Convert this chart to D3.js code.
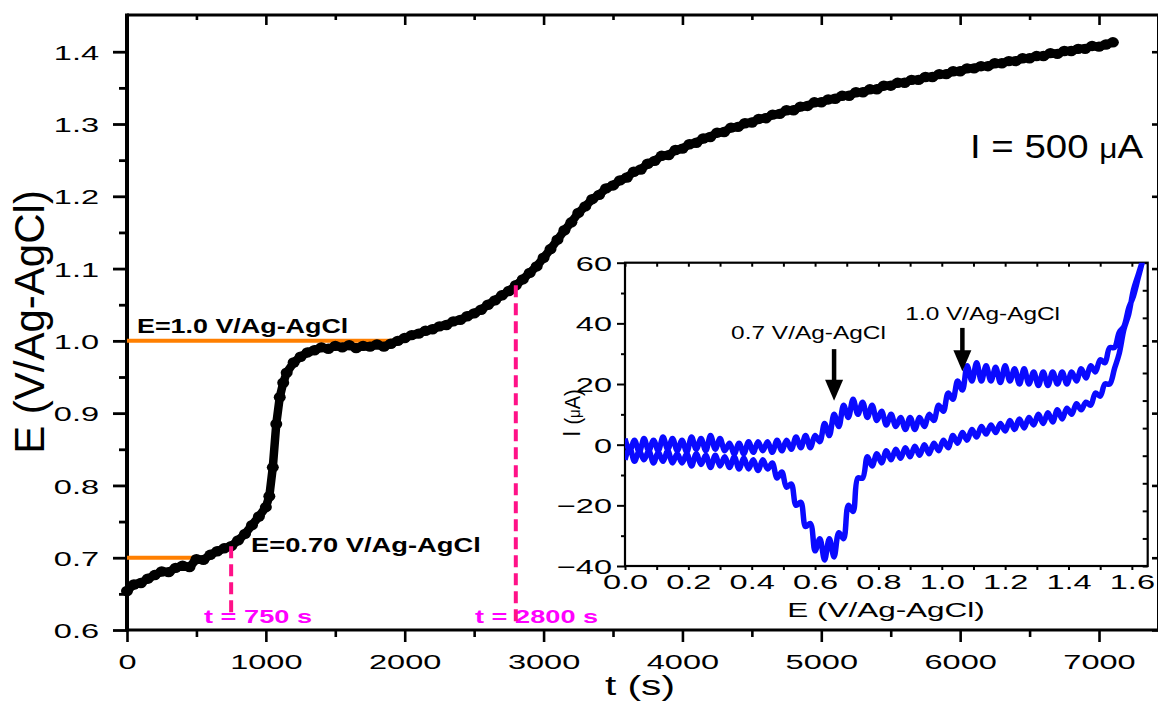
<!DOCTYPE html>
<html>
<head>
<meta charset="utf-8">
<script src="https://cdn.jsdelivr.net/npm/d3@7"></script>
<style>
  html, body { margin: 0; padding: 0; background: #fff; }
  svg { display: block; font-family: "Liberation Sans", Arial, Helvetica, sans-serif; }
</style>
</head>
<body>
<svg id="chart" width="1158" height="703"></svg>
<script>
// ---- Galvanostatic chronopotentiogram: E vs t at I = 500 µA ----
const timeS = [
  0, 50, 100, 150, 200, 250, 300, 350, 400, 450, 500, 550, 600, 650, 700, 750, 800, 850, 900, 950, 1000,
  1025, 1050, 1075, 1100, 1125, 1150,
  1200, 1250, 1300, 1350, 1400, 1450, 1500, 1550, 1600, 1650, 1700, 1750, 1800, 1850, 1900, 1950, 2000,
  2050, 2100, 2150, 2200, 2250, 2300, 2350, 2400, 2450, 2500, 2550, 2600, 2650, 2700, 2750, 2800,
  2850, 2900, 2950, 3000, 3050, 3100, 3150, 3200, 3250, 3300, 3350, 3400, 3450, 3500, 3550, 3600,
  3650, 3700, 3750, 3800, 3850, 3900, 3950, 4000, 4050, 4100, 4150, 4200, 4250, 4300, 4350, 4400,
  4450, 4500, 4550, 4600, 4650, 4700, 4750, 4800, 4850, 4900, 4950, 5000, 5050, 5100, 5150, 5200,
  5250, 5300, 5350, 5400, 5450, 5500, 5550, 5600, 5650, 5700, 5750, 5800, 5850, 5900, 5950, 6000,
  6050, 6100, 6150, 6200, 6250, 6300, 6350, 6400, 6450, 6500, 6550, 6600, 6650, 6700, 6750, 6800,
  6850, 6900, 6950, 7000, 7050, 7100
];
const potentialV = [
  0.654, 0.663, 0.665, 0.671, 0.676, 0.681, 0.680, 0.686, 0.689, 0.687, 0.698, 0.697, 0.704, 0.709, 0.713, 0.716, 0.724, 0.733, 0.745, 0.757, 0.770,
  0.785, 0.825, 0.885, 0.922, 0.942, 0.956,
  0.970, 0.978, 0.984, 0.987, 0.991, 0.989, 0.993, 0.991, 0.994, 0.990, 0.993, 0.992, 0.995, 0.992, 0.996, 1.000, 1.004,
  1.008, 1.010, 1.014, 1.016, 1.020, 1.022, 1.027, 1.029, 1.034, 1.038, 1.043, 1.050, 1.056, 1.063, 1.069, 1.077,
  1.085, 1.094, 1.103, 1.115, 1.127, 1.140, 1.153, 1.164, 1.177, 1.186, 1.196, 1.202, 1.211, 1.215, 1.222, 1.226,
  1.234, 1.237, 1.245, 1.249, 1.256, 1.257, 1.264, 1.266, 1.272, 1.274, 1.280, 1.282, 1.288, 1.289, 1.295, 1.296,
  1.301, 1.302, 1.307, 1.308, 1.313, 1.314, 1.319, 1.319, 1.324, 1.325, 1.330, 1.330, 1.334, 1.335, 1.339, 1.339,
  1.344, 1.344, 1.348, 1.348, 1.353, 1.353, 1.357, 1.357, 1.361, 1.361, 1.365, 1.365, 1.369, 1.369, 1.373, 1.373,
  1.377, 1.377, 1.380, 1.380, 1.384, 1.384, 1.387, 1.387, 1.391, 1.391, 1.394, 1.394, 1.398, 1.397, 1.401, 1.401,
  1.404, 1.404, 1.408, 1.407, 1.410, 1.413
];

// Plateau markers and sampling times
const plateauE = [0.70, 1.0];
const plateauEnd = [500, 2000];
const plateauText = ["E=0.70 V/Ag-AgCl", "E=1.0 V/Ag-AgCl"];
const sampleT = [750, 2800];
const sampleText = ["t = 750 s", "t = 2800 s"];
const sampleBottomE = [0.618, 0.612];

// Main axis ticks
const tMajor = [0, 1000, 2000, 3000, 4000, 5000, 6000, 7000];
const tMinor = [500, 1500, 2500, 3500, 4500, 5500, 6500];
const eMajor = [0.6, 0.7, 0.8, 0.9, 1.0, 1.1, 1.2, 1.3, 1.4];
const eMinor = [0.65, 0.75, 0.85, 0.95, 1.05, 1.15, 1.25, 1.35];

// ---- Inset: cyclic voltammogram ----
const cvE = [
  0, 0.015, 0.03, 0.045, 0.06, 0.075, 0.09, 0.105, 0.12, 0.135, 0.15, 0.165, 0.18, 0.195, 0.21, 0.225,
  0.24, 0.255, 0.27, 0.285, 0.3, 0.315, 0.33, 0.345, 0.36, 0.375, 0.39, 0.405, 0.42, 0.435, 0.45, 0.465,
  0.48, 0.495, 0.51, 0.525, 0.54, 0.555, 0.57, 0.585, 0.6, 0.615, 0.63, 0.645, 0.66, 0.675, 0.69, 0.705,
  0.72, 0.735, 0.75, 0.765, 0.78, 0.795, 0.81, 0.825, 0.84, 0.855, 0.87, 0.885, 0.9, 0.915, 0.93, 0.945,
  0.96, 0.975, 0.99, 1.005, 1.02, 1.035, 1.05, 1.065, 1.08, 1.095, 1.11, 1.125, 1.14, 1.155, 1.17, 1.185,
  1.2, 1.215, 1.23, 1.245, 1.26, 1.275, 1.29, 1.305, 1.32, 1.335, 1.35, 1.365, 1.38, 1.395, 1.41, 1.425,
  1.44, 1.455, 1.47, 1.485, 1.5, 1.515, 1.53, 1.545, 1.56, 1.575, 1.59, 1.605, 1.62, 1.635
];
// anodic sweep (0 -> 1.635 V), µA
const cvForward = [
  2, -2, 1.5, -2.5, 2, -2, 1.5, -2, 2.5, -1.5, 2, -2, 1.5, -2.5, 2.5, -1.5,
  2, -2, 3, -1.5, 2, -2, 0.5, -3, 0.5, -3, 1, -2.5, 1, -2, 1, -2.5,
  1.5, -2, 1.5, -1.5, 2.5, -1, 3, -1, 3, 1, 7, 3, 10, 6, 13, 9,
  15, 10, 14, 9, 13, 8, 11, 6.5, 10, 6, 9, 5, 9, 5, 9, 6,
  10, 8, 13, 11, 17, 15, 21, 18, 26, 21, 27, 21, 26, 21, 25.5, 20.5,
  26, 21, 25, 20, 25, 20, 24, 19.5, 24, 19.5, 24, 20, 24, 20, 24, 21,
  25, 22, 26, 24, 28, 27, 32, 32, 37, 39, 45, 49, 55, 61
];
// cathodic sweep (1.635 -> 0 V), listed at the same potentials in ascending order, µA
const cvReverse = [
  -5, -1, -5.5, -2, -5, -2, -6, -2.5, -5.5, -2, -6, -3, -6, -3, -7, -3,
  -6.5, -3.5, -7.5, -3.5, -7, -4, -7.5, -4, -8, -4.5, -8, -5, -8.5, -5, -8, -6,
  -11, -9, -14, -13, -20, -19, -27, -26, -35, -31, -38, -31, -37, -29, -31, -20,
  -22, -11, -11, -4, -7, -3, -6, -2, -5, -1.5, -4.5, -1, -4, -0.5, -3.5, 0,
  -3, 0.5, -2, 1.5, -1, 3, 0.5, 4, 1.5, 5, 2.5, 6, 3.5, 6.5, 4, 7,
  4.5, 8, 5, 8.5, 5.5, 9, 6.5, 10, 7, 10.5, 7.5, 11.5, 8.5, 12, 10, 13.5,
  11.5, 14, 13, 17, 16, 20, 20, 25, 30, 38, 43, 51, 56, 61
];
const cvMajorE = [0, 0.2, 0.4, 0.6, 0.8, 1.0, 1.2, 1.4, 1.6];
const cvMinorE = [0.1, 0.3, 0.5, 0.7, 0.9, 1.1, 1.3, 1.5];
const cvMajorI = [-40, -20, 0, 20, 40, 60];
const cvMinorI = [-30, -10, 10, 30, 50];
// peak annotations: label, arrow potential, arrow tail / tip current, label start potential, label current
const peakText = ["0.7 V/Ag-AgCl", "1.0 V/Ag-AgCl"];
const peakArrowE = [0.66, 1.065];
const peakTailI = [31.5, 38.5];
const peakTipI = [14.5, 24.2];
const peakLabelE = [0.335, 0.885];
const peakLabelI = [35, 41];

// ---------------------------------------------------------------
const FONT = '"Liberation Sans", Arial, Helvetica, sans-serif';
const svg = d3.select("#chart");

// text helper: horizontal stretch factor k, optional rotation; str may be a list of runs
function txt(parent, str, x, y, o = {}) {
  const k = o.k || 1;
  const t = parent.append("text")
    .attr("transform", `translate(${x},${y}) scale(${k},1)` + (o.rot ? ` rotate(${o.rot})` : ""))
    .attr("text-anchor", o.anchor || "start")
    .attr("fill", o.fill || "#000")
    .style("font-size", o.size + "px")
    .style("font-weight", o.weight || "normal")
    .style("font-family", FONT);
  if (Array.isArray(str)) {
    str.forEach(p => {
      const run = typeof p === "string" ? { t: p } : p;
      t.append("tspan").text(run.t).style("font-size", (run.size || o.size) + "px");
    });
  } else {
    t.text(str);
  }
  return t;
}

// ---- Main panel ----
const M = { left: 127, right: 1159, top: 15, bottom: 630 };
const x = d3.scaleLinear().domain([0, 7432]).range([M.left, M.right]);
const y = d3.scaleLinear().domain([0.6, 1.4508]).range([M.bottom, M.top]);

function styleTicks(g, w) {
  g.select(".domain").remove();
  g.selectAll(".tick line").attr("stroke", "#000").attr("stroke-width", w);
}

// bottom axis
const gxB = svg.append("g").attr("transform", `translate(0,${M.bottom})`)
  .call(d3.axisBottom(x).tickValues(tMajor).tickSize(12).tickFormat(d3.format("d")));
styleTicks(gxB, 2.6);
gxB.selectAll(".tick text").attr("y", 39).attr("dy", 0).attr("transform", "scale(1.55,1)")
  .style("font-size", "21px").style("font-family", FONT).attr("fill", "#000");
const gxBm = svg.append("g").attr("transform", `translate(0,${M.bottom})`)
  .call(d3.axisBottom(x).tickValues(tMinor).tickSize(7).tickFormat(""));
styleTicks(gxBm, 2.6);

// top frame ticks (inward)
const gxT = svg.append("g").attr("transform", `translate(0,${M.top})`)
  .call(d3.axisTop(x).tickValues(tMajor).tickSize(-10).tickFormat(""));
styleTicks(gxT, 2.6);
const gxTm = svg.append("g").attr("transform", `translate(0,${M.top})`)
  .call(d3.axisTop(x).tickValues(tMinor).tickSize(-5).tickFormat(""));
styleTicks(gxTm, 2.6);

// left axis
const gyL = svg.append("g").attr("transform", `translate(${M.left},0)`)
  .call(d3.axisLeft(y).tickValues(eMajor).tickSize(14).tickFormat(d3.format(".1f")));
styleTicks(gyL, 2.8);
gyL.selectAll(".tick text").attr("x", -28 / 1.55).attr("dy", "0.36em").attr("transform", "scale(1.55,1)")
  .style("font-size", "21px").style("font-family", FONT).attr("fill", "#000");
const gyLm = svg.append("g").attr("transform", `translate(${M.left},0)`)
  .call(d3.axisLeft(y).tickValues(eMinor).tickSize(8).tickFormat(""));
styleTicks(gyLm, 2.8);

// right frame ticks (inward)
const gyR = svg.append("g").attr("transform", `translate(${M.right},0)`)
  .call(d3.axisRight(y).tickValues(eMajor).tickSize(-7).tickFormat(""));
styleTicks(gyR, 2.6);

// frame lines
svg.append("line").attr("x1", M.left).attr("x2", M.right + 2).attr("y1", M.top).attr("y2", M.top)
  .attr("stroke", "#000").attr("stroke-width", 2.8);
svg.append("line").attr("x1", M.left - 1).attr("x2", M.right + 2).attr("y1", M.bottom).attr("y2", M.bottom)
  .attr("stroke", "#000").attr("stroke-width", 3);
svg.append("line").attr("x1", M.left).attr("x2", M.left).attr("y1", M.top - 1.4).attr("y2", M.bottom + 1.5)
  .attr("stroke", "#000").attr("stroke-width", 4);
svg.append("line").attr("x1", M.right).attr("x2", M.right).attr("y1", M.top).attr("y2", M.bottom)
  .attr("stroke", "#000").attr("stroke-width", 4);

// axis titles
txt(svg, "t (s)", 640, 695, { size: 28, k: 1.45, anchor: "middle" });
txt(svg, "E (V/Ag-AgCl)", 44, 322, { size: 42, k: 1, anchor: "middle", rot: -90 });

// plateau reference lines (orange)
const orange = "#ff7f00";
plateauE.forEach((e, i) => {
  svg.append("line").attr("x1", x(0)).attr("x2", x(plateauEnd[i]))
    .attr("y1", y(e)).attr("y2", y(e))
    .attr("stroke", orange).attr("stroke-width", 4);
});

// main E-t trace
const pts = timeS.map((t, i) => [t, potentialV[i]]);
svg.append("path").datum(pts)
  .attr("d", d3.line().x(d => x(d[0])).y(d => y(d[1])))
  .attr("fill", "none").attr("stroke", "#000").attr("stroke-width", 8.5)
  .attr("stroke-linejoin", "round").attr("stroke-linecap", "round");
svg.append("g").selectAll("ellipse").data(pts).join("ellipse")
  .attr("cx", d => x(d[0])).attr("cy", d => y(d[1]))
  .attr("rx", 6).attr("ry", 5.2).attr("fill", "#000");

// plateau labels
txt(svg, plateauText[1], 137, 333, { size: 21, k: 1.28, weight: "bold" });
txt(svg, plateauText[0], 251, 552, { size: 21, k: 1.3, weight: "bold" });

// sampling-time labels and dashed markers
const magenta = "#ff00ff";
txt(svg, sampleText[0], 204, 623, { size: 18.5, k: 1.47, weight: "bold", fill: magenta });
txt(svg, sampleText[1], 475, 623, { size: 18.5, k: 1.47, weight: "bold", fill: magenta });
const potAt = t => potentialV[timeS.indexOf(t)];
sampleT.forEach((t, i) => {
  svg.append("line").attr("x1", x(t)).attr("x2", x(t))
    .attr("y1", y(potAt(t))).attr("y2", y(sampleBottomE[i]))
    .attr("stroke", "#ff1188").attr("stroke-width", 4).attr("stroke-dasharray", "12,6");
});

// current annotation
txt(svg, ["I = 500 ", { t: "\u03bc", size: 28 }, "A"], 970, 158, { size: 34, k: 1.13 });

// ---- Inset ----
const I = { left: 625, right: 1147.7, top: 262.7, bottom: 566 };
const xi = d3.scaleLinear().domain([0, 1.65]).range([I.left, I.right]);
const yi = d3.scaleLinear().domain([-40, 60]).range([I.bottom, I.top]);
const yiAlt = d3.scaleLinear().domain([0, 11]).range([I.bottom, I.top]);

svg.append("rect").attr("x", I.left).attr("y", I.top)
  .attr("width", I.right - I.left).attr("height", I.bottom - I.top).attr("fill", "#fff");

// inset bottom axis
const ixB = svg.append("g").attr("transform", `translate(0,${I.bottom})`)
  .call(d3.axisBottom(xi).tickValues(cvMajorE).tickSize(4).tickFormat(d3.format(".1f")));
styleTicks(ixB, 2);
ixB.selectAll(".tick text").attr("y", 23).attr("dy", 0).attr("transform", "scale(1.55,1)")
  .style("font-size", "21px").style("font-family", FONT).attr("fill", "#000");
const ixBm = svg.append("g").attr("transform", `translate(0,${I.bottom})`)
  .call(d3.axisBottom(xi).tickValues(cvMinorE).tickSize(4).tickFormat(""));
styleTicks(ixBm, 2);
// inset top ticks (inward)
const ixT = svg.append("g").attr("transform", `translate(0,${I.top})`)
  .call(d3.axisTop(xi).tickValues(cvMajorE.concat(cvMinorE)).tickSize(-4).tickFormat(""));
styleTicks(ixT, 2);
// inset left axis
const iyL = svg.append("g").attr("transform", `translate(${I.left},0)`)
  .call(d3.axisLeft(yi).tickValues(cvMajorI).tickSize(8).tickFormat(d3.format("d")));
styleTicks(iyL, 2);
iyL.selectAll(".tick text").attr("x", -13 / 1.55).attr("dy", "0.36em").attr("transform", "scale(1.55,1)")
  .style("font-size", "21px").style("font-family", FONT).attr("fill", "#000");
const iyLm = svg.append("g").attr("transform", `translate(${I.left},0)`)
  .call(d3.axisLeft(yi).tickValues(cvMinorI).tickSize(4).tickFormat(""));
styleTicks(iyLm, 2);
// inset right ticks (inward)
const iyR = svg.append("g").attr("transform", `translate(${I.right},0)`)
  .call(d3.axisRight(yiAlt).tickValues(d3.range(12)).tickSize(-5).tickFormat(""));
styleTicks(iyR, 2);

// inset frame
svg.append("rect").attr("x", I.left).attr("y", I.top)
  .attr("width", I.right - I.left).attr("height", I.bottom - I.top)
  .attr("fill", "none").attr("stroke", "#000").attr("stroke-width", 2.2);

// inset titles
txt(svg, "E (V/Ag-AgCl)", 886, 617, { size: 21, k: 1.5, anchor: "middle" });
txt(svg, ["I ", { t: "(", size: 20 }, { t: "\u03bc", size: 15 }, { t: "A)", size: 20 }], 580, 413,
  { size: 22, k: 1.1, anchor: "middle", rot: -90 });

// CV loop (clipped to the inset frame)
svg.append("clipPath").attr("id", "cvclip").append("rect")
  .attr("x", I.left).attr("y", I.top).attr("width", I.right - I.left).attr("height", I.bottom - I.top);
const loop = cvE.map((e, i) => [e, cvForward[i]])
  .concat(cvE.map((e, i) => [e, cvReverse[i]]).reverse());
svg.append("path").datum(loop)
  .attr("clip-path", "url(#cvclip)")
  .attr("d", d3.line().x(d => xi(d[0])).y(d => yi(d[1])).curve(d3.curveCatmullRom))
  .attr("fill", "none").attr("stroke", "#0a0aff").attr("stroke-width", 5.5)
  .attr("stroke-linejoin", "round");

// peak annotations
peakText.forEach((s, i) => {
  txt(svg, s, xi(peakLabelE[i]), yi(peakLabelI[i]), { size: 18.5, k: 1.32 });
  const ax = xi(peakArrowE[i]);
  const tip = yi(peakTipI[i]);
  const tail = yi(peakTailI[i]);
  svg.append("line").attr("x1", ax).attr("x2", ax).attr("y1", tail).attr("y2", tip - 16)
    .attr("stroke", "#000").attr("stroke-width", 4.5);
  svg.append("path")
    .attr("d", `M${ax - 9},${tip - 21} L${ax + 9},${tip - 21} L${ax},${tip} Z`)
    .attr("fill", "#000");
});
</script>
</body>
</html>
